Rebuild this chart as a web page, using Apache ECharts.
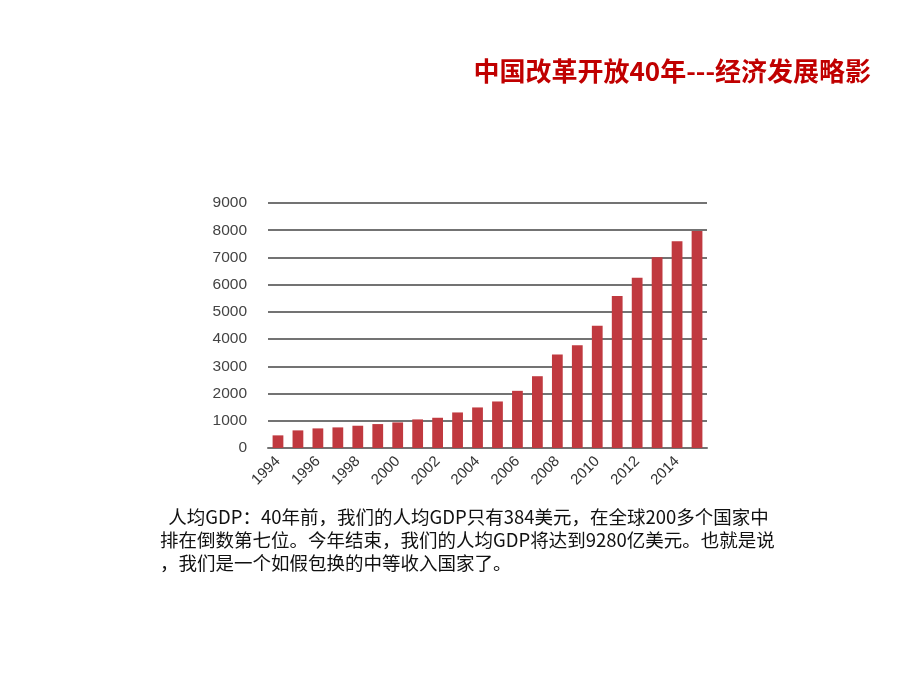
<!DOCTYPE html>
<html><head><meta charset="utf-8">
<script src="https://cdn.jsdelivr.net/npm/echarts@6/dist/echarts.min.js"></script>
<style>html,body{margin:0;padding:0;background:#fff}#c{width:920px;height:688px}</style>
</head><body><div id="c"></div>
<script>
const years = ['1994','1995','1996','1997','1998','1999','2000','2001','2002','2003','2004','2005','2006','2007','2008','2009','2010','2011','2012','2013','2014','2015'];
const gdpPerCapita = [464,647,720,757,818,879,940,1050,1111,1306,1490,1709,2100,2637,3431,3773,4493,5580,6252,7009,7595,7973];
const yTicks = [0,1000,2000,3000,4000,5000,6000,7000,8000,9000];
const titleText = '中国改革开放40年---经济发展略影';
const paragraphLines = [
  '  人均GDP：40年前，我们的人均GDP只有384美元，在全球200多个国家中',
  '排在倒数第七位。今年结束，我们的人均GDP将达到9280亿美元。也就是说',
  '，我们是一个如假包换的中等收入国家了。'
];
const chart = echarts.init(document.getElementById('c'));
const cjk = '"Microsoft YaHei","Noto Sans CJK SC",sans-serif';
chart.setOption({
  backgroundColor: '#fff',
  animation: false,
  title: {
    text: titleText,
    right: 44, top: 53,
    textStyle: {color: '#c00000', fontSize: 26, fontWeight: 'bold', fontFamily: cjk}
  },
  grid: {left: 268, right: 213, top: 203, bottom: 240, containLabel: false},
  xAxis: {
    type: 'category', data: years,
    axisTick: {show: false},
    axisLine: {lineStyle: {color: '#737373', width: 2}},
    axisLabel: {interval: 1, rotate: 45, margin: 11, color: '#333', fontSize: 15, fontFamily: 'Liberation Sans, Arial, sans-serif'}
  },
  yAxis: {
    type: 'value', min: yTicks[0], max: yTicks[yTicks.length-1], interval: 1000,
    axisLine: {show: false}, axisTick: {show: false},
    axisLabel: {margin: 21, color: '#444', fontSize: 15.5, fontFamily: 'Liberation Sans, Arial, sans-serif',
      formatter: v => String(v)},
    splitLine: {lineStyle: {color: '#737373', width: 2}}
  },
  series: [{
    type: 'bar', data: gdpPerCapita, barWidth: '54%',
    itemStyle: {color: '#c0393f'}
  }],
  graphic: paragraphLines.map((t, i) => ({
    type: 'text', left: 160, top: 508 + i * 23,
    style: {text: t, fill: '#111', fontSize: 18.5, fontFamily: cjk}
  }))
});
</script></body></html>
